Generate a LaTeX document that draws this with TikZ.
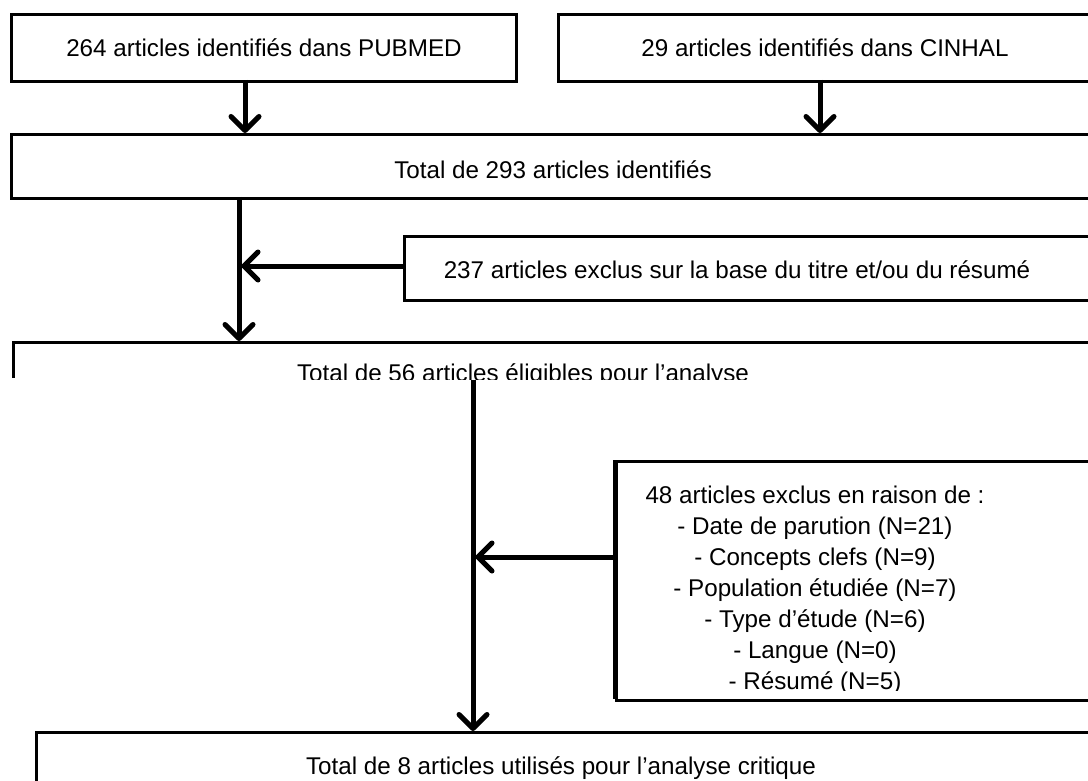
\documentclass[tikz,border=0pt]{standalone}
\usepackage{fontspec}
\setmainfont{Liberation Sans}
\usetikzlibrary{arrows.meta}
\tikzset{
  box/.style={draw, line width=3pt, rectangle, inner sep=0pt, anchor=north west},
  lbl/.style={font=\fontsize{24.2}{31}\selectfont, inner sep=0pt, align=center},
  flow/.style={line width=5pt, -{Straight Barb[length=14pt,width=28pt,line width=5pt,round]}},
  plain/.style={line width=5pt}
}
\begin{document}
\begin{tikzpicture}[x=1pt,y=-1pt]
\clip (0,0) rectangle (1088,781);
\fill[white] (0,0) rectangle (1088,781);
% boxes
\node[box, minimum width=505pt, minimum height=67pt] (b1) at (10,13) {};
\node[box, minimum width=545pt, minimum height=67pt] (b2) at (557,13) {};
\node[box, minimum width=1100pt, minimum height=64pt] (b3) at (10,133) {};
\node[box, minimum width=700pt, minimum height=64pt] (b237) at (403,235) {};
\node[box, minimum width=1100pt, minimum height=80pt] (b4) at (12,341) {};
\node[box, minimum width=500pt, minimum height=239pt] (b5) at (615,460) {};
\node[box, minimum width=1100pt, minimum height=100pt] (b6) at (35,731) {};
% white cover for lower part of box 4
\fill[white] (0,378) rectangle (1088,458);
\draw[line width=3.5pt] (615,460) -- (615,699);
% texts
\node[lbl] (t1) at (264,48) {264 articles identifiés dans PUBMED};
\node[lbl] (t2) at (825,48) {29 articles identifiés dans CINHAL};
\node[lbl] (t3) at (553,170) {Total de 293 articles identifiés};
\node[lbl] (t237) at (737,270) {237 articles exclus sur la base du titre et/ou du résumé};
\begin{scope}
\clip (0,343) rectangle (1088,379);
\node[lbl] (t4) at (523,375) {Total de 56 articles éligibles pour l’analyse};
\end{scope}
\begin{scope}
\clip (0,462) rectangle (1088,690);
\node[lbl] (t5) at (815,590) {48 articles exclus en raison de :\\- Date de parution (N=21)\\- Concepts clefs (N=9)\\- Population étudiée (N=7)\\- Type d’étude (N=6)\\- Langue (N=0)\\- Résumé (N=5)};
\end{scope}
\node[lbl] (t6) at (561,768) {Total de 8 articles utilisés pour l’analyse critique};
% connectors
\coordinate (a1) at (245,80);
\coordinate (a2) at (820,80);
\draw[flow] (a1) -- (a1 |- b3.north);
\draw[flow] (a2) -- (a2 |- b3.north);
\coordinate (v1) at (239,197);
\draw[flow] (v1) -- (v1 |- b4.north);
\coordinate (h1) at (239,266);
\draw[flow] (b237.west |- h1) -- ([xshift=2.5pt]h1);
\coordinate (v2) at (473,380);
\draw[flow] (v2) -- (v2 |- b6.north);
\coordinate (h2) at (473,557);
\draw[flow] (b5.west |- h2) -- ([xshift=2.5pt]h2);
\end{tikzpicture}
\end{document}
